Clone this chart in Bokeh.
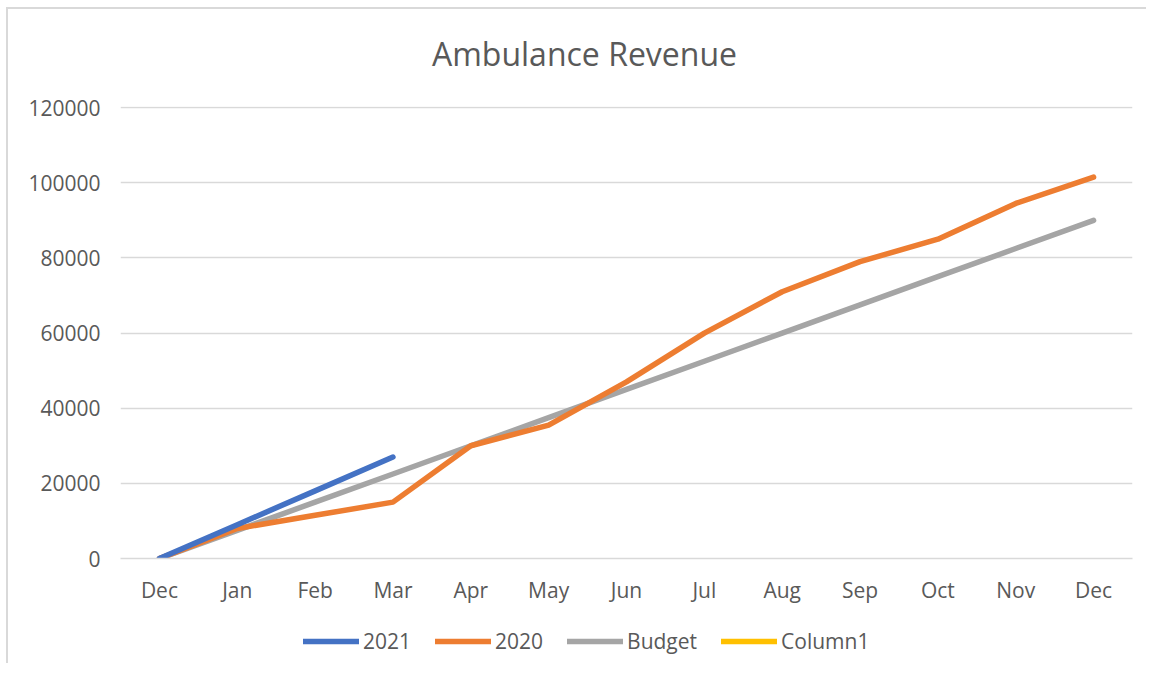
from bokeh.plotting import figure
from bokeh.models import Legend, LegendItem, FixedTicker, Range1d, NumeralTickFormatter, Label
from bokeh.layouts import column
from bokeh.embed import file_html
from bokeh.resources import INLINE

months = ["Dec", "Jan", "Feb", "Mar", "Apr", "May", "Jun", "Jul", "Aug", "Sep", "Oct", "Nov", "Dec"]
revenue_2021 = [0, 9000, 18000, 27000]
revenue_2020 = [0, 8000, 11500, 15000, 30000, 35500, 47000, 60000, 71000, 79000, 85000, 94500, 101500]
budget = [0, 7500, 15000, 22500, 30000, 37500, 45000, 52500, 60000, 67500, 75000, 82500, 90000]
column1 = [float("nan")] * 13  # empty series
y_ticks = [0, 20000, 40000, 60000, 80000, 100000, 120000]

series_names = ["2021", "2020", "Budget", "Column1"]
series_colors = ["#4472C4", "#ED7D31", "#A5A5A5", "#FFC000"]

FONT = "Open Sans"
TXT = "#595959"
GRID = "#d9d9d9"
LW = 5.5

OX, OY = 8, 9          # page offset of the chart box (margin + border)
W = 1138
H_T, H_MAIN, H_LEG = 70, 542, 42

# title strip
tf = figure(width=W, height=H_T, output_backend="svg", toolbar_location=None,
            x_range=Range1d(0, 1), y_range=Range1d(0, 1),
            min_border_left=0, min_border_right=0, min_border_top=0, min_border_bottom=0)
tf.axis.visible = False
tf.grid.visible = False
tf.outline_line_color = None
tf.add_layout(Label(x=584 - 120, y=OY + H_T - 53, x_units="screen", y_units="screen",
                    text="Ambulance Revenue", text_font=FONT, text_font_size="32px",
                    text_color=TXT, text_align="center", text_baseline="middle"))

top_main = OY + H_T
p = figure(width=W, height=H_MAIN, output_backend="svg", toolbar_location=None,
           x_range=Range1d(-0.5, 12.5), y_range=Range1d(0, 120300),
           min_border_left=120 - OX, min_border_right=W + OX - 1132, min_border_top=106 - top_main,
           min_border_bottom=H_MAIN + top_main - 558)
p.outline_line_color = None
p.background_fill_color = "white"
p.border_fill_color = "white"

xs = list(range(len(months)))
all_series = [revenue_2021, revenue_2020, budget, column1]
for name, vals, col in reversed(list(zip(series_names, all_series, series_colors))):
    p.line(xs[:len(vals)], vals, line_color=col, line_width=LW,
           line_cap="round", line_join="round")

p.xaxis.ticker = FixedTicker(ticks=xs)
p.xaxis.major_label_overrides = {i: m for i, m in enumerate(months)}
p.xaxis.axis_line_color = GRID
p.xaxis.axis_line_width = 1.5
p.xaxis.major_tick_line_color = None
p.xaxis.minor_tick_line_color = None
p.xaxis.major_label_standoff = 11
p.xaxis.major_label_text_font = FONT
p.xaxis.major_label_text_font_size = "21px"
p.xaxis.major_label_text_color = TXT
p.xgrid.grid_line_color = None

p.yaxis.ticker = FixedTicker(ticks=y_ticks)
p.yaxis.formatter = NumeralTickFormatter(format="0")
p.yaxis.axis_line_color = None
p.yaxis.major_tick_line_color = None
p.yaxis.minor_tick_line_color = None
p.yaxis.major_label_standoff = 14
p.yaxis.major_label_text_font = FONT
p.yaxis.major_label_text_font_size = "21px"
p.yaxis.major_label_text_color = TXT
p.ygrid.grid_line_color = GRID
p.ygrid.grid_line_width = 1.5

# legend strip below the chart
lg = figure(width=W, height=H_LEG, output_backend="svg", toolbar_location=None,
            x_range=Range1d(0, 1), y_range=Range1d(0, 1),
            min_border_left=0, min_border_right=0, min_border_top=0, min_border_bottom=0)
lg.axis.visible = False
lg.grid.visible = False
lg.outline_line_color = None
items = []
for name, vals, col in zip(series_names, all_series, series_colors):
    r = lg.line(xs[:1], [float("nan")], line_color=col, line_width=LW, line_cap="round")
    items.append(LegendItem(label=name, renderers=[r]))
legend = Legend(items=items, orientation="horizontal", location=(183, 8),
                glyph_width=56, glyph_height=20, label_standoff=4, spacing=24,
                label_text_font=FONT, label_text_font_size="21px", label_text_color=TXT,
                border_line_color=None, background_fill_alpha=0, margin=0, padding=0)
lg.add_layout(legend)

layout = column(tf, p, lg, spacing=0,
                styles={"margin-left": "6px", "margin-top": "7px",
                        "border-left": "2px solid #d9d9d9", "border-top": "2px solid #d9d9d9"})
open("out.html", "w").write(file_html(layout, INLINE))
